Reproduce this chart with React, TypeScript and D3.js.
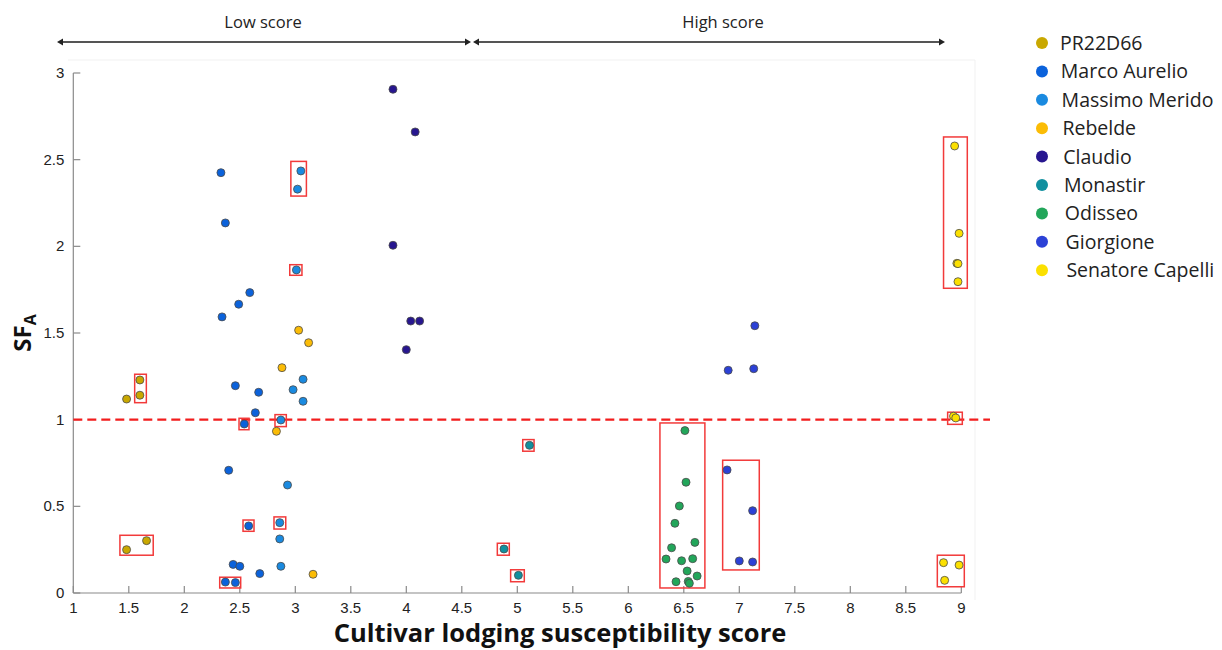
import React from 'react';
import * as d3 from 'd3';

const W = 1222;
const H = 650;

// cultivar names, legend order
const cultivars = [
  'PR22D66', 'Marco Aurelio', 'Massimo Merido', 'Rebelde', 'Claudio',
  'Monastir', 'Odisseo', 'Giorgione', 'Senatore Capelli',
];
const colours = [
  '#c9a800', '#0b62db', '#1a8ae0', '#fbbc06', '#27168f',
  '#11909f', '#22a65a', '#2c41d6', '#fbe000',
];

// [score, SFA] per cultivar
const pr22d66 = [[1.48, 1.119], [1.6, 1.229], [1.6, 1.141], [1.48, 0.25], [1.66, 0.302]];
const marcoAurelio = [
  [2.33, 2.425], [2.37, 2.135], [2.59, 1.733], [2.49, 1.666], [2.34, 1.593], [2.46, 1.196],
  [2.67, 1.158], [2.64, 1.04], [2.54, 0.975], [2.4, 0.708], [2.58, 0.387], [2.44, 0.165],
  [2.5, 0.154], [2.68, 0.112], [2.37, 0.063], [2.46, 0.06],
];
const massimoMerido = [
  [3.05, 2.435], [3.02, 2.33], [3.01, 1.864], [3.07, 1.233], [2.98, 1.173], [3.07, 1.106],
  [2.87, 0.998], [2.93, 0.623], [2.86, 0.406], [2.86, 0.312], [2.87, 0.154],
];
const rebelde = [[3.03, 1.516], [3.12, 1.444], [2.88, 1.3], [2.83, 0.933], [3.16, 0.108]];
const claudio = [[3.88, 2.906], [4.08, 2.66], [3.88, 2.006], [4.04, 1.569], [4.12, 1.569], [4.0, 1.404]];
const monastir = [[5.11, 0.852], [4.88, 0.254], [5.01, 0.102]];
const odisseo = [
  [6.51, 0.937], [6.52, 0.639], [6.46, 0.502], [6.42, 0.402], [6.6, 0.292], [6.39, 0.261],
  [6.34, 0.196], [6.48, 0.186], [6.58, 0.198], [6.53, 0.127], [6.62, 0.098], [6.43, 0.065],
  [6.54, 0.067], [6.55, 0.056],
];
const giorgione = [[7.14, 1.542], [6.9, 1.285], [7.13, 1.294], [6.89, 0.71], [7.12, 0.475], [7.0, 0.185], [7.12, 0.179]];
const senatoreCapelli = [
  [8.94, 2.579], [8.98, 2.075], [8.96, 1.902], [8.97, 1.9], [8.97, 1.796],
  [8.93, 1.02], [8.95, 1.01], [8.84, 0.175], [8.98, 0.161], [8.85, 0.073],
];
const seriesData = [pr22d66, marcoAurelio, massimoMerido, rebelde, claudio, monastir, odisseo, giorgione, senatoreCapelli];

// highlight boxes [x0, x1, y0, y1] in data units
const boxes = [
  [2.96, 3.1, 2.29, 2.49], [2.95, 3.06, 1.833, 1.894], [1.553, 1.658, 1.098, 1.262],
  [2.493, 2.583, 0.942, 1.008], [2.817, 2.919, 0.96, 1.029], [2.529, 2.628, 0.356, 0.421],
  [2.808, 2.914, 0.369, 0.439], [1.42, 1.72, 0.218, 0.333], [2.319, 2.508, 0.029, 0.091],
  [5.049, 5.151, 0.818, 0.885], [4.82, 4.928, 0.218, 0.287], [4.94, 5.063, 0.065, 0.134],
  [6.285, 6.69, 0.029, 0.981], [6.85, 7.18, 0.133, 0.766], [8.84, 9.054, 1.758, 2.631],
  [8.877, 9.009, 0.973, 1.043], [8.784, 9.027, 0.036, 0.218],
];

const xTicks = [1, 1.5, 2, 2.5, 3, 3.5, 4, 4.5, 5, 5.5, 6, 6.5, 7, 7.5, 8, 8.5, 9];
const yTicks = [0, 0.5, 1, 1.5, 2, 2.5, 3];
const threshold = 1;

const x = d3.scaleLinear().domain([1, 9]).range([73.3, 961.3]);
const y = d3.scaleLinear().domain([0, 3]).range([593, 73]);

const tickFont = '"Liberation Sans", Arial, sans-serif';
const labelFont = '"Open Sans", Lato, sans-serif';

const Arrow = ({ x0, x1, yy }: { x0: number; x1: number; yy: number }) => (
  <g>
    <line x1={x0 + 4} x2={x1 - 4} y1={yy} y2={yy} stroke="#555" strokeWidth={1.8} />
    <path d={`M${x0},${yy} l6,-3.5 v7 z`} fill="#222" />
    <path d={`M${x1},${yy} l-6,-3.5 v7 z`} fill="#222" />
  </g>
);

export default function App() {
  const [x0, x1] = x.range();
  const [y0, y1] = y.range();
  return (
    <svg width={W} height={H} style={{ position: 'absolute', left: 0, top: 0, background: '#fff' }}>
      {/* faint frame of the embedded plot */}
      <line x1={68} x2={975} y1={60} y2={60} stroke="#f1f1f1" />
      <line x1={975} x2={975} y1={60} y2={600} stroke="#f1f1f1" />

      {/* score range arrows */}
      <text x={263} y={28} textAnchor="middle" fontFamily={labelFont} fontSize={16.5} fill="#222">Low score</text>
      <text x={723} y={28} textAnchor="middle" fontFamily={labelFont} fontSize={16.5} fill="#222">High score</text>
      <Arrow x0={57} x1={471} yy={42} />
      <Arrow x0={473} x1={945} yy={42} />

      {/* axes */}
      <line x1={x0} x2={x0} y1={y0} y2={y1} stroke="#8a8a8a" strokeWidth={1.2} />
      <line x1={x0} x2={x1} y1={y0} y2={y0} stroke="#8a8a8a" strokeWidth={1.2} />
      {yTicks.map((t) => (
        <g key={'y' + t}>
          <line x1={x0} x2={x0 + 7} y1={y(t)} y2={y(t)} stroke="#8a8a8a" strokeWidth={1.2} />
          <text x={x0 - 9} y={y(t) + 5} textAnchor="end" fontFamily={tickFont} fontSize={15} fill="#222">{t}</text>
        </g>
      ))}
      {xTicks.map((t) => (
        <g key={'x' + t}>
          <line x1={x(t)} x2={x(t)} y1={y0} y2={y0 - 7} stroke="#8a8a8a" strokeWidth={1.2} />
          <text x={x(t)} y={y0 + 20} textAnchor="middle" fontFamily={tickFont} fontSize={15} fill="#222">{t}</text>
        </g>
      ))}

      {/* threshold */}
      <line x1={x0} x2={990} y1={y(threshold)} y2={y(threshold)} stroke="#f21d1d" strokeWidth={2.4} strokeDasharray="9,5" />

      {/* highlight boxes */}
      {boxes.map((b, i) => (
        <rect key={'b' + i} x={x(b[0])} y={y(b[3])} width={x(b[1]) - x(b[0])} height={y(b[2]) - y(b[3])}
          fill="none" stroke="#f23a3a" strokeWidth={1.5} />
      ))}

      {/* points */}
      {seriesData.map((pts, si) => (
        <g key={'s' + si}>
          {pts.map((p, i) => (
            <circle key={i} cx={x(p[0])} cy={y(p[1])} r={4} fill={colours[si]} stroke="#4a4a4a" strokeWidth={0.8} />
          ))}
        </g>
      ))}

      {/* axis titles */}
      <text x={560} y={642} textAnchor="middle" fontFamily={labelFont} fontWeight="bold" fontSize={25.5} fill="#111">
        Cultivar lodging susceptibility score
      </text>
      <text transform="translate(31,333) rotate(-90)" textAnchor="middle" fontFamily={labelFont} fontWeight="bold" fontSize={24} fill="#111">
        SF<tspan fontSize={16} dy={5}>A</tspan>
      </text>

      {/* legend */}
      {cultivars.map((c, i) => (
        <g key={c} transform={`translate(1042,${43 + i * 28.4})`}>
          <circle r={6} fill={colours[i]} />
          <text x={18 + i * 0.8} y={7} fontFamily={labelFont} fontSize={19.5} fill="#222">{c}</text>
        </g>
      ))}
    </svg>
  );
}
